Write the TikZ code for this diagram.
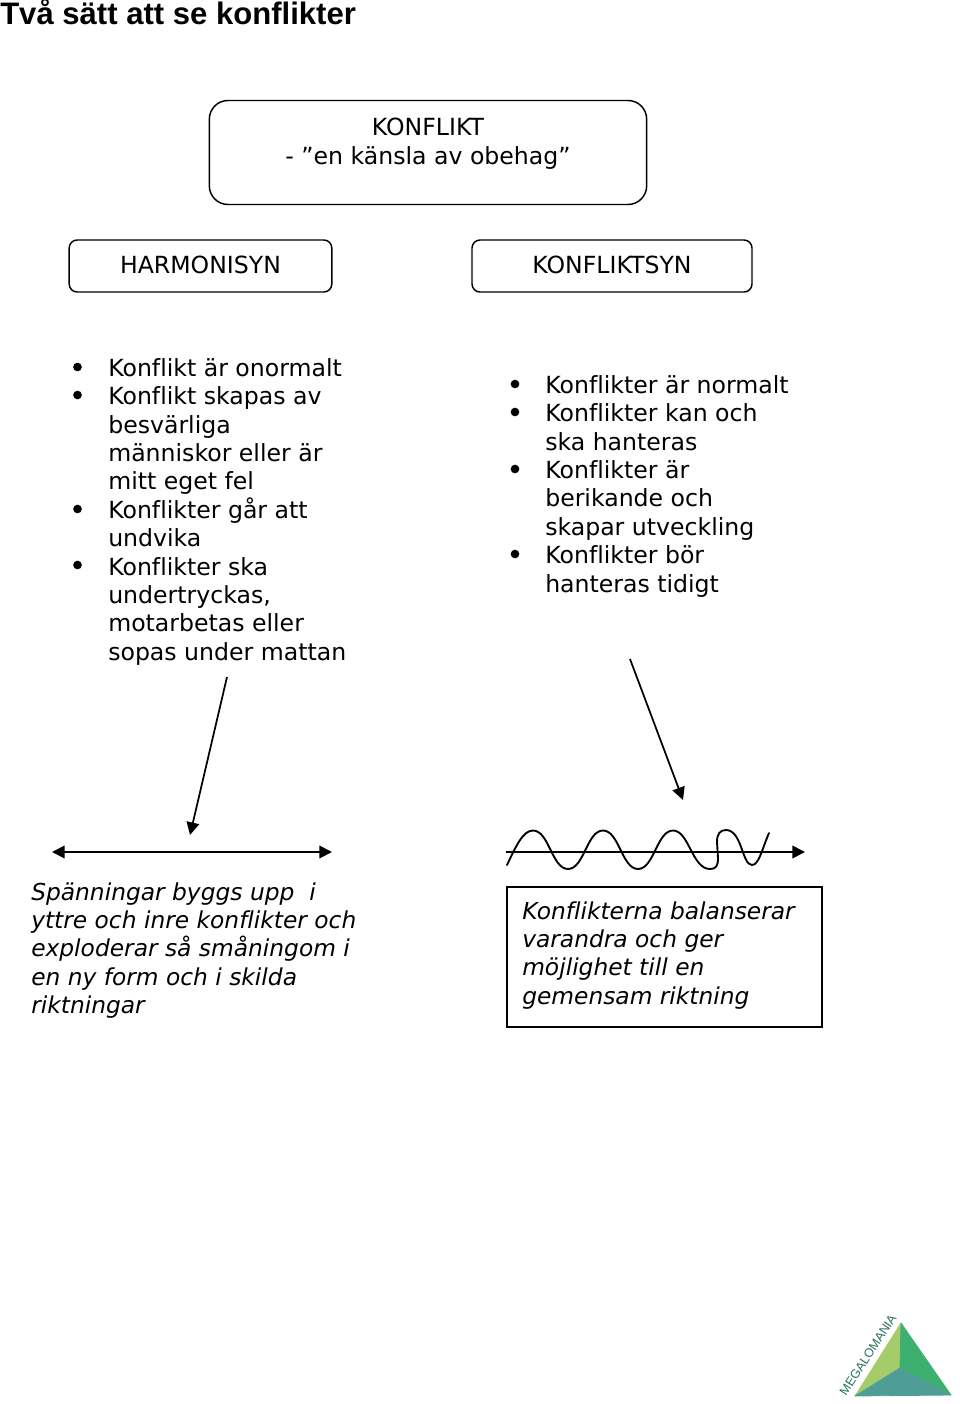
\documentclass[tikz,border=0pt]{standalone}
\usepackage{fontspec}
\setmainfont[Ligatures=NoCommon]{DejaVu Sans}
\newfontfamily\titlefont{Liberation Sans}
\usetikzlibrary{arrows.meta}
\definecolor{logolight}{HTML}{A5CC6B}
\definecolor{logogreen}{HTML}{3DB06F}
\definecolor{logoteal}{HTML}{4F9E96}
\definecolor{logotext}{HTML}{24705C}
\tikzset{
  rubrik/.style={draw,line width=1.1pt,rounded corners=6pt,minimum height=39pt,align=center,font=\fontsize{17.7}{21.3}\selectfont},
  lista/.style={anchor=north west,inner sep=0pt,align=left,font=\fontsize{17.7}{21.3}\selectfont},
  kursiv/.style={lista,font=\itshape\fontsize{17.5}{21.3}\selectfont},
  punkt/.style={circle,fill=black,inner sep=0pt,minimum size=6.5pt},
  pil/.style={line width=1.3pt,-{Triangle[length=9.5pt,width=9.5pt]}},
  logga/.style={line width=0.6pt,line join=round},
}
\begin{document}
\begin{tikzpicture}[x=0.75pt,y=-0.75pt]
        \useasboundingbox (0,0) rectangle (960,1404);
        \node[anchor=west,inner sep=0pt,font=\titlefont\bfseries\fontsize{23.3}{26}\selectfont] (titel) at (0,11.5) {Två sätt att se konflikter};

        % rutor
        \node[rubrik,rounded corners=14pt,minimum width=328pt,minimum height=78pt] (konflikt) at (428,152.5) {};
        \node[lista,anchor=center,align=center] (konflikttext) at (428,143.5) {KONFLIKT\\- ”en känsla av obehag”};
        \node[rubrik,minimum width=197pt] (harmonisyn) at (200.5,266) {};
        \node[lista,anchor=center] (harmonitext) at (200.5,264.5) {HARMONISYN};
        \node[rubrik,minimum width=210pt] (konfliktsyn) at (612,266) {};
        \node[lista,anchor=center] (konfliktsyntext) at (612,264.5) {KONFLIKTSYN};

        % vänster lista
        \node[lista] (harmonilista) at (108,358) {Konflikt är onormalt\\Konflikt skapas av\\besvärliga\\människor eller är\\mitt eget fel\\Konflikter går att\\undvika\\Konflikter ska\\undertryckas,\\motarbetas eller\\sopas under mattan};
        \node[punkt] (h1) at (77.5,367) {};
        \node[punkt] (h2) at (77.5,395) {};
        \node[punkt] (h3) at (77.5,509) {};
        \node[punkt] (h4) at (77.5,565) {};

        % höger lista
        \node[lista] (konfliktlista) at (545,375) {Konflikter är normalt\\Konflikter kan och\\ska hanteras\\Konflikter är\\berikande och\\skapar utveckling\\Konflikter bör\\hanteras tidigt};
        \node[punkt] (k1) at (515,384) {};
        \node[punkt] (k2) at (515,412) {};
        \node[punkt] (k3) at (515,469) {};
        \node[punkt] (k4) at (515,554) {};

        % pilar
        \coordinate (a1) at (227,677);
        \coordinate (a2) at (190,835);
        \coordinate (b1) at (630,659);
        \coordinate (b2) at (683,800);
        \draw[pil] (a1) -- (a2);
        \draw[pil] (b1) -- (b2);

        \coordinate (c1) at (52,852);
        \coordinate (c2) at (332,852);
        \draw[pil,{Triangle[length=9.5pt,width=9.5pt]}-{Triangle[length=9.5pt,width=9.5pt]}] (c1) -- (c2);

        \coordinate (d1) at (506,852);
        \coordinate (d2) at (805,852);
        \draw[pil] (d1) -- (d2);

        % vågen
        \draw[line width=1.4pt,line cap=round] (507,865)
          .. controls (516,846) and (523,830.5) .. (533,830.5)
          .. controls (549,830.5) and (552,869) .. (568,869)
          .. controls (584,869) and (587,830.5) .. (603,830.5)
          .. controls (619,830.5) and (622,869) .. (638,869)
          .. controls (654,869) and (657,830.5) .. (673,830.5)
          .. controls (689,830.5) and (692,869) .. (710,869)
          .. controls (716,869) and (718,866) .. (718,858)
          -- (717,842)
          .. controls (717,834) and (720,830) .. (726,830)
          .. controls (742,830) and (742,865) .. (752,865)
          .. controls (759,865) and (762,849) .. (769,833);

        % texter nere
        \node[kursiv] (spanning) at (31,882) {Spänningar byggs upp \ i\\yttre och inre konflikter och\\exploderar så småningom i\\en ny form och i skilda\\riktningar};
        \node[draw,line width=1.3pt,minimum width=236pt,minimum height=105pt] (balansruta) at (664.5,957) {};
        \node[kursiv] (balans) at (522,901) {Konflikterna balanserar\\varandra och ger\\möjlighet till en\\gemensam riktning};

        % logga
        \filldraw[logga,fill=logolight,draw=logolight] (901,1323) -- (855,1396) -- (900,1368) -- cycle;
        \filldraw[logga,fill=logogreen,draw=logogreen] (901,1323) -- (951,1395) -- (900,1368) -- cycle;
        \filldraw[logga,fill=logoteal,draw=logoteal] (855,1396) -- (951,1395) -- (900,1368) -- cycle;
        \node[rotate=57,inner sep=0pt,text=logotext,font=\titlefont\fontsize{9.4}{10}\selectfont] (loggatext) at (868,1355) {MEGALOMANIA};
    \end{tikzpicture}
\end{document}
